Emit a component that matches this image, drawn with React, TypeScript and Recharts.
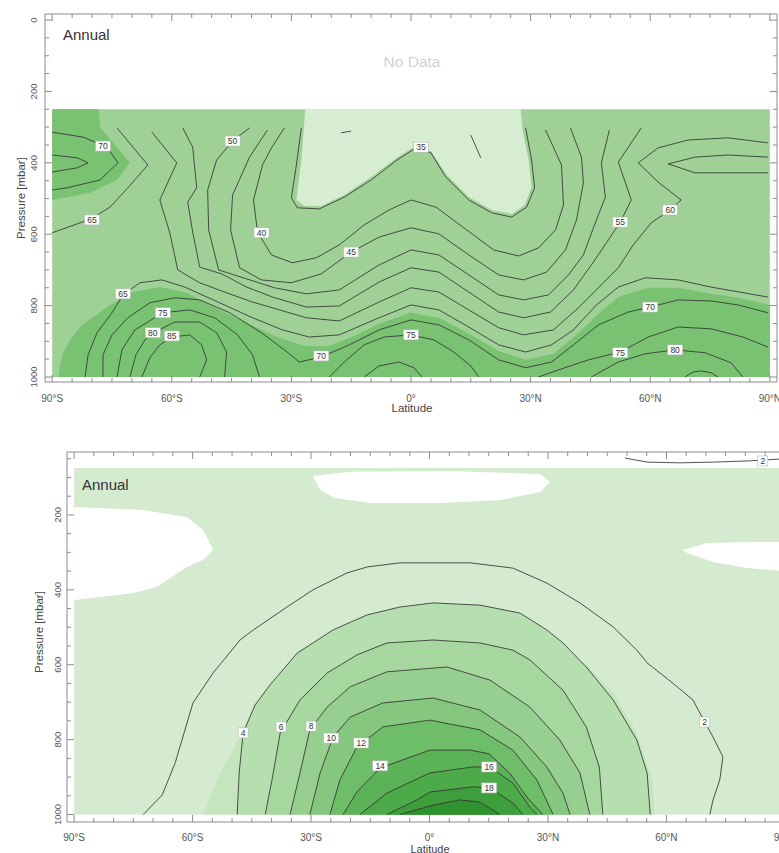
import React from 'react';
import { ComposedChart, Scatter, XAxis, YAxis } from 'recharts';

type Pt = [number, number];
interface Lbl { x: number; y: number; v: number }

const FONT = '"Liberation Sans", Arial, Helvetica, sans-serif';
const AX = '#8c8c8c';
const LINE = '#333';

// ---------- axes ----------
const latTicks: number[] = [-90, -85, -80, -75, -70, -65, -60, -55, -50, -45, -40, -35, -30, -25, -20, -15, -10, -5, 0, 5, 10, 15, 20, 25, 30, 35, 40, 45, 50, 55, 60, 65, 70, 75, 80, 85, 90];
const latMajor: number[] = [-90, -60, -30, 0, 30, 60, 90];
const latLabels: string[] = ['90°S', '60°S', '30°S', '0°', '30°N', '60°N', '90°N'];
const topPTicks: number[] = [0, 50, 100, 150, 200, 250, 300, 350, 400, 450, 500, 550, 600, 650, 700, 750, 800, 850, 900, 950, 1000];
const botPTicks: number[] = [50, 100, 150, 200, 250, 300, 350, 400, 450, 500, 550, 600, 650, 700, 750, 800, 850, 900, 950, 1000];
const pMajor: number[] = [0, 200, 400, 600, 800, 1000];
const cornerPts: Pt[] = [[-90, 0], [90, 1000]];

// ---------- top panel: fills ----------
const topArea: Pt[] = [[-90, 250], [90, 250], [90, 1000], [-90, 1000]];
const topPale: Pt[] = [[-26.5, 250], [-27.5, 392], [-28.75, 504], [-26.75, 521], [-22.5, 521], [-16.75, 490], [-10, 440], [-3, 381], [1.25, 353], [5, 367], [8.75, 431], [14.5, 496], [20.25, 532], [25.25, 543], [28.5, 518], [30.25, 468], [29.5, 392], [28, 308], [27.5, 250]];
const topDarkTL: Pt[] = [[-90, 250], [-78.25, 250], [-78, 300], [-73.75, 356], [-70.5, 400], [-73.75, 448], [-80.5, 484], [-90, 504]];
const topDarkBottom: Pt[] = [[-88.5, 1000], [-87.5, 938], [-85.5, 896], [-82.5, 854], [-76.25, 804], [-69.75, 762], [-63, 748], [-56.25, 764], [-49.25, 806], [-41.75, 845], [-34.25, 885], [-26.75, 913], [-20.5, 913], [-14.25, 885], [-8, 851], [0, 820], [7, 834], [14.5, 879], [22, 927], [28.75, 952], [35.75, 935], [41.5, 882], [47, 823], [52, 776], [59.5, 750], [67, 750], [75.25, 767], [82, 778], [90, 798], [90, 1000]];

// ---------- top panel: contour lines ----------
const t35: Pt[] = [[-27.5, 302], [-28.75, 406], [-30, 498], [-28.5, 526], [-23, 529], [-16.75, 496], [-10, 448], [-3.5, 392], [1.25, 358], [5, 372], [8.75, 440], [14.5, 504], [20.25, 540], [25.25, 552], [29, 524], [31, 470], [30.25, 392], [28.75, 302]];
const t40: Pt[] = [[-31.75, 302], [-35, 358], [-37.25, 406], [-39.5, 504], [-38.5, 594], [-35, 658], [-29.75, 680], [-23.75, 666], [-18, 630], [-11.75, 574], [-5.5, 532], [0, 504], [6.25, 524], [13.25, 582], [20.75, 644], [27, 661], [32, 638], [36.25, 588], [38.25, 518], [37.75, 406], [33.75, 308]];
const t45: Pt[] = [[-36, 308], [-40.5, 384], [-44.75, 490], [-45.25, 588], [-43, 694], [-37.5, 728], [-30, 736], [-22.5, 711], [-15, 650], [-8, 608], [0, 582], [7, 599], [14.5, 658], [22, 714], [28.25, 728], [34, 706], [38.75, 644], [41.5, 560], [43.25, 456], [42.75, 384], [40, 302]];
const t50: Pt[] = [[-40.5, 302], [-44.75, 339], [-48.75, 392], [-51, 476], [-50.75, 588], [-48.25, 700], [-41.25, 725], [-34.25, 750], [-26.25, 767], [-18, 756], [-8, 686], [0, 644], [7, 658], [14.5, 714], [22, 770], [28.25, 784], [34.5, 770], [39.5, 714], [43.25, 658], [45.75, 582], [48.75, 496], [47.75, 400], [49.75, 308]];
const t55: Pt[] = [[-57.25, 302], [-54.75, 356], [-53.75, 470], [-56, 510], [-54.75, 594], [-53, 692], [-47.5, 711], [-41.25, 748], [-34.75, 776], [-26.25, 804], [-18, 801], [-8, 734], [0, 694], [7, 706], [14.5, 762], [22, 818], [28.25, 834], [35, 818], [40.75, 756], [45.75, 678], [49.5, 616], [52.5, 566], [55.25, 504], [52, 398], [57.75, 302]];
const t60: Pt[] = [[-65, 314], [-58.75, 400], [-63, 504], [-60.5, 596], [-58.5, 700], [-53, 736], [-46.25, 764], [-39.75, 790], [-33, 812], [-26.25, 834], [-18, 843], [-8, 790], [0, 750], [7, 762], [14.5, 812], [22, 862], [28.25, 882], [35.75, 868], [42, 806], [48.25, 736], [52, 694], [55.75, 630], [60.25, 568], [65, 532], [67.75, 504], [62, 454], [57, 400], [62, 358], [69.5, 336], [79.5, 330], [89.5, 344]];
const t65a: Pt[] = [[-73.75, 302], [-69.75, 356], [-66, 406], [-71, 470], [-75.5, 524], [-80.25, 557], [-90, 596]];
const t65: Pt[] = [[-81.75, 1000], [-81, 938], [-78.75, 876], [-75, 820], [-72.25, 770], [-68, 736], [-62.5, 728], [-56.75, 748], [-48, 792], [-39.75, 834], [-32.25, 868], [-25.5, 888], [-18, 882], [-8, 834], [0, 798], [7, 812], [14.5, 860], [22, 910], [28.75, 930], [35.25, 910], [40.75, 868], [46.5, 798], [52, 748], [58.75, 722], [67, 728], [75.25, 748], [89.5, 776]];
const t65v: Pt[] = [[89.5, 384], [79.5, 378], [71.25, 384], [64.5, 403], [71.25, 428], [79.5, 428], [89.5, 428]];
const t70a: Pt[] = [[-90, 314], [-82.25, 328], [-76.25, 356], [-73.5, 400], [-78, 448], [-86.25, 470], [-90, 476]];
const t75a: Pt[] = [[-90, 378], [-83.75, 386], [-81, 400], [-83.75, 414], [-90, 426]];
const t70: Pt[] = [[-77.25, 1000], [-77.25, 938], [-75, 882], [-71, 834], [-65.5, 792], [-59.25, 778], [-53, 784], [-45.5, 820], [-37.5, 876], [-31.75, 924], [-28, 958], [-22.5, 944], [-15.5, 910], [-8, 868], [0, 840], [7, 854], [14.5, 896], [22, 952], [28.75, 974], [35.25, 958], [40.75, 910], [47, 854], [54.5, 818], [60, 804], [67, 784], [75.25, 787], [82, 798], [89.5, 820]];
const t75L: Pt[] = [[-73.75, 1000], [-72.5, 924], [-69.25, 868], [-62.25, 820], [-55.5, 812], [-49.25, 834], [-43.5, 882], [-39.75, 938], [-38, 1000]];
const t80L: Pt[] = [[-70.5, 1000], [-69, 938], [-66.75, 896], [-64.25, 874], [-59.25, 846], [-53, 846], [-48.75, 876], [-46.25, 930], [-46.75, 1000]];
const t85L: Pt[] = [[-67.5, 1000], [-65.5, 946], [-63, 910], [-60, 888], [-55.5, 882], [-52.5, 910], [-51.25, 952], [-53, 1000]];
const t75C: Pt[] = [[-20.5, 1000], [-16.75, 958], [-11.75, 910], [-6.75, 888], [0, 882], [5.75, 896], [10.75, 930], [15, 969], [17, 1000]];
const t80C: Pt[] = [[-11.75, 1000], [-8, 969], [-3, 958], [0.75, 974], [2.75, 1000]];
const t75R: Pt[] = [[32, 1000], [37, 980], [44.5, 952], [52.5, 930], [59.5, 888], [67, 860], [75.25, 865], [83.25, 888], [89.5, 916]];
const t80R: Pt[] = [[45.25, 1000], [52, 958], [58.75, 935], [66.25, 924], [73.75, 932], [80.25, 960], [83.25, 1000]];
const t85R: Pt[] = [[68.75, 1000], [70.75, 986], [72.75, 983], [75.25, 988], [77, 1000]];
const tFrag1: Pt[] = [[-17.5, 316], [-15, 311]];
const tFrag2: Pt[] = [[15, 322], [17.5, 386]];

const topLabels: Lbl[] = [
  { x: -77.25, y: 353, v: 70 }, { x: -44.75, y: 339, v: 50 }, { x: 2.5, y: 356, v: 35 },
  { x: -80, y: 560, v: 65 }, { x: -37.5, y: 596, v: 40 }, { x: -15, y: 650, v: 45 },
  { x: 52.5, y: 566, v: 55 }, { x: 65, y: 532, v: 60 }, { x: -72.25, y: 767, v: 65 },
  { x: -62.25, y: 820, v: 75 }, { x: -64.75, y: 876, v: 80 }, { x: -60, y: 885, v: 85 },
  { x: -22.5, y: 941, v: 70 }, { x: 0, y: 882, v: 75 }, { x: 60, y: 804, v: 70 },
  { x: 52.5, y: 932, v: 75 }, { x: 66.25, y: 924, v: 80 },
];

// ---------- bottom panel: fills ----------
const botArea: Pt[] = [[-90, 75], [90, 75], [90, 1000], [-90, 1000]];
const botW1: Pt[] = [[-29.5, 96], [-20.1, 85], [5.2, 83], [28, 91], [30.5, 112], [28, 139], [18, 160], [2.7, 168], [-15.1, 168], [-23.9, 155], [-27.7, 134]];
const botW2: Pt[] = [[-90, 179], [-72.5, 187], [-61.4, 206], [-57.3, 240], [-54.8, 294], [-57.3, 320], [-61.4, 339], [-69, 392], [-75.1, 409], [-83.4, 419], [-90, 427]];
const botW3: Pt[] = [[90, 272], [80.4, 272], [70.3, 275], [64.2, 294], [65.2, 302], [71.8, 326], [80.4, 342], [90, 350]];
const botLight: Pt[] = [[-57.3, 1000], [-53, 889], [-47.97, 793], [-43.7, 713], [-35.3, 622], [-22.7, 534], [-14.6, 502], [0.1, 488], [17.8, 491], [29.7, 534], [39.7, 601], [46.5, 673], [52.5, 782], [56.4, 908], [57, 1000]];

// ---------- bottom panel: contour lines ----------
const b2top: Pt[] = [[49.5, 48], [55.1, 59], [63.4, 61], [71.8, 59], [80.4, 56], [88.5, 51], [90, 51]];
const b2: Pt[] = [[-72.5, 1000], [-67.7, 948], [-64.4, 862], [-59.9, 702], [-54.8, 622], [-47.97, 534], [-44.6, 507], [-36.1, 446], [-29.5, 400], [-20.9, 355], [-15.8, 339], [-7.5, 328], [0.1, 328], [10.3, 328], [21.1, 342], [29.7, 382], [38.1, 435], [46.5, 499], [52.5, 561], [55.1, 595], [61.6, 649], [66.7, 694], [69.7, 753], [71.8, 793], [74.3, 846], [73.5, 908], [71.8, 961], [71, 1000]];
const b4: Pt[] = [[-48.7, 1000], [-48.2, 889], [-47.2, 782], [-44.2, 708], [-40.4, 654], [-33.5, 569], [-24.4, 507], [-15.8, 467], [-7.5, 446], [0.9, 435], [12.8, 441], [22.9, 462], [29.7, 507], [33.8, 542], [39.7, 606], [46.5, 694], [52.5, 801], [55.1, 889], [55.9, 1000]];
const b6: Pt[] = [[-41.6, 1000], [-39.9, 908], [-37.8, 782], [-32.8, 694], [-25.9, 622], [-18.4, 574], [-10.8, 542], [0.9, 534], [12.8, 542], [21.1, 561], [25.4, 587], [33.8, 668], [39.7, 766], [43, 873], [43.9, 1000]];
const b8: Pt[] = [[-35.3, 1000], [-32.8, 889], [-30.3, 774], [-25.9, 713], [-20.1, 659], [-10.8, 619], [0.9, 609], [4.4, 606], [15.3, 641], [25.4, 713], [33, 801], [38.1, 889], [40.6, 1000]];
const b10: Pt[] = [[-30.3, 1000], [-27.7, 889], [-24.4, 793], [-20.1, 740], [-11.8, 702], [0.9, 689], [12.8, 721], [22.9, 793], [29.7, 873], [33.8, 943], [35.6, 1000]];
const b12: Pt[] = [[-25.2, 1000], [-22.7, 908], [-18.4, 820], [-11.8, 766], [0.1, 748], [12.8, 774], [21.1, 828], [27.2, 908], [31.3, 1000]];
const b14: Pt[] = [[-21.9, 1000], [-18.4, 940], [-12.5, 876], [0.1, 828], [10.3, 828], [15.1, 838], [20.4, 891], [25, 958], [28.7, 1000]];
const b16: Pt[] = [[-17.6, 1000], [-10.8, 943], [0.1, 889], [11, 873], [15.3, 873], [21.1, 916], [25.4, 980], [27.2, 1000]];
const b18: Pt[] = [[-10.8, 1000], [-3.2, 961], [0.1, 940], [11, 926], [15.3, 929], [21.1, 969], [23.7, 1000]];
const b20: Pt[] = [[-7.5, 1000], [0.9, 975], [7.7, 961], [12.8, 967], [17.8, 1000]];

const botLabels: Lbl[] = [
  { x: -47.2, y: 782, v: 4 }, { x: -37.6, y: 766, v: 6 }, { x: -30, y: 764, v: 8 },
  { x: -24.9, y: 796, v: 10 }, { x: -17.3, y: 809, v: 12 }, { x: -12.5, y: 870, v: 14 },
  { x: 15.1, y: 873, v: 16 }, { x: 15.1, y: 929, v: 18 }, { x: 69.7, y: 753, v: 2 },
  { x: 84.4, y: 56, v: 2 },
];

// ---------- colours ----------
const TOP_MID = '#9fd197';
const TOP_PALE = '#d6edd1';
const TOP_DARK = '#79c272';
const BOT_PALE = '#d4ebcf';
const BOT_LIGHT = '#c4e5bd';
const botLevels: { d: Pt[]; c: string }[] = [
  { d: b4, c: '#b6dfaf' }, { d: b6, c: '#a6d79f' }, { d: b8, c: '#96cf8f' },
  { d: b10, c: '#85c77f' }, { d: b12, c: '#6ebd68' }, { d: b14, c: '#5cb357' },
  { d: b16, c: '#4caa48' }, { d: b18, c: '#3e9e3b' }, { d: b20, c: '#30912f' },
];

// ---------- helpers ----------
const toPts = (a: Pt[]) => a.map(([x, y]) => ({ x, y }));
const Empty = () => <g />;

const fillS = (key: string, a: Pt[], color: string) => (
  <Scatter key={key} data={toPts(a)} xAxisId="b" yAxisId="l" fill="none" shape={Empty}
    line={{ fill: color, stroke: 'none' }} isAnimationActive={false} />
);
const lineS = (key: string, a: Pt[]) => (
  <Scatter key={key} data={toPts(a)} xAxisId="b" yAxisId="l" fill="none" shape={Empty}
    line={{ stroke: LINE, strokeWidth: 0.85, fill: 'none' }} isAnimationActive={false} />
);

const LabelShape = (props: any) => {
  const { cx, cy, payload } = props;
  if (cx == null || cy == null || !payload) return <g />;
  const t = String(payload.v);
  const w = t.length * 5 + 5;
  return (
    <g>
      <rect x={cx - w / 2} y={cy - 5} width={w} height={10} fill="#fff" stroke="#b5b5b5" strokeWidth={0.6} />
      <text x={cx} y={cy + 3.2} textAnchor="middle" fontSize={8.5} fill="#333" fontFamily={FONT}>{t}</text>
    </g>
  );
};

const bottomTick = (dy: number) => (props: any) => {
  const { x, y, payload } = props;
  const v = payload.value;
  const i = latMajor.indexOf(v);
  const major = i >= 0;
  return (
    <g>
      <line x1={x} x2={x} y1={y} y2={y - (major ? 7 : 4)} stroke={AX} strokeWidth={1} />
      {major && (
        <text x={x} y={y + dy} textAnchor="middle" fontSize={10} fill="#555" fontFamily={FONT}>{latLabels[i]}</text>
      )}
    </g>
  );
};
const TopTick = (props: any) => {
  const { x, y, payload } = props;
  const major = latMajor.indexOf(payload.value) >= 0;
  return <line x1={x} x2={x} y1={y} y2={y + (major ? 7 : 4)} stroke={AX} strokeWidth={1} />;
};
const leftTick = (dx: number) => (props: any) => {
  const { x, y, payload } = props;
  const v = payload.value;
  const major = pMajor.indexOf(v) >= 0;
  const tx = x - dx;
  return (
    <g>
      <line x1={x} x2={x + (major ? 7 : 4)} y1={y} y2={y} stroke={AX} strokeWidth={1} />
      {major && (
        <text x={tx} y={y} transform={`rotate(-90 ${tx} ${y})`} textAnchor="middle" dominantBaseline="central"
          fontSize={9.5} fill="#555" fontFamily={FONT}>{v}</text>
      )}
    </g>
  );
};
const RightTick = (props: any) => {
  const { x, y, payload } = props;
  const major = pMajor.indexOf(payload.value) >= 0;
  return <line x1={x} x2={x - (major ? 7 : 4)} y1={y} y2={y} stroke={AX} strokeWidth={1} />;
};

const Txt = (p: { x: number; y: number; size: number; color: string; rot?: number; left?: boolean; children: React.ReactNode }) => (
  <div style={{
    position: 'absolute', left: p.x, top: p.y, fontSize: p.size, color: p.color, fontFamily: FONT,
    whiteSpace: 'nowrap', lineHeight: 1,
    transform: `${p.left ? 'translate(0,-50%)' : 'translate(-50%,-50%)'}${p.rot ? ` rotate(${p.rot}deg)` : ''}`,
  }}>{p.children}</div>
);

const axes = (pDomain: [number, number], pTicks: number[], xH: number, topH: number, yW: number, rW: number, dy: number, dx: number) => [
  <XAxis key="xb" xAxisId="b" type="number" dataKey="x" domain={[-91.8, 91.8]} allowDataOverflow ticks={latTicks}
    interval={0} height={xH} tickSize={0} tickMargin={0} tickLine={false} axisLine={{ stroke: AX }} tick={bottomTick(dy)} />,
  <XAxis key="xt" xAxisId="t" orientation="top" type="number" dataKey="x" domain={[-91.8, 91.8]} allowDataOverflow ticks={latTicks}
    interval={0} height={topH} tickSize={0} tickMargin={0} tickLine={false} axisLine={{ stroke: AX }} tick={TopTick} />,
  <YAxis key="yl" yAxisId="l" type="number" dataKey="y" domain={pDomain} reversed allowDataOverflow ticks={pTicks}
    interval={0} width={yW} tickSize={0} tickMargin={0} tickLine={false} axisLine={{ stroke: AX }} tick={leftTick(dx)} />,
  <YAxis key="yr" yAxisId="r" orientation="right" type="number" dataKey="y" domain={pDomain} reversed allowDataOverflow ticks={pTicks}
    interval={0} width={rW} tickSize={0} tickMargin={0} tickLine={false} axisLine={{ stroke: AX }} tick={RightTick} />,
  <Scatter key="corner" data={toPts(cornerPts)} xAxisId="t" yAxisId="r" shape={Empty} isAnimationActive={false} />,
];

export default function App() {
  const topLines: Pt[][] = [t35, t40, t45, t50, t55, t60, t65a, t65, t65v, t70a, t75a, t70, t75L, t80L, t85L, t75C, t80C, t75R, t80R, t85R, tFrag1, tFrag2];
  const botLines: Pt[][] = [b2top, b2, b4, b6, b8, b10, b12, b14, b16, b18, b20];
  return (
    <div style={{ position: 'absolute', left: 0, top: 0, width: 779, height: 853, overflow: 'hidden', background: '#fff' }}>
      <div style={{ position: 'absolute', left: 0, top: 0 }}>
        <ComposedChart width={779} height={420} margin={{ top: 0, right: 0, bottom: 0, left: 0 }}>
          {fillS('ta', topArea, TOP_MID)}
          {fillS('tp', topPale, TOP_PALE)}
          {fillS('td1', topDarkTL, TOP_DARK)}
          {fillS('td2', topDarkBottom, TOP_DARK)}
          {topLines.map((a, i) => lineS('tl' + i, a))}
          <Scatter data={topLabels} xAxisId="b" yAxisId="l" shape={LabelShape} isAnimationActive={false} />
          {axes([-17, 1014], topPTicks, 38, 14, 45, 2, 20, 11)}
        </ComposedChart>
      </div>
      <div style={{ position: 'absolute', left: 0, top: 430 }}>
        <ComposedChart width={800} height={423} margin={{ top: 0, right: 0, bottom: 0, left: 0 }}>
          {fillS('ba', botArea, BOT_PALE)}
          {fillS('bw1', botW1, '#ffffff')}
          {fillS('bw2', botW2, '#ffffff')}
          {fillS('bw3', botW3, '#ffffff')}
          {fillS('bl', botLight, BOT_LIGHT)}
          {botLevels.map((l, i) => fillS('bf' + i, l.d, l.c))}
          {botLines.map((a, i) => lineS('bl' + i, a))}
          <Scatter data={botLabels} xAxisId="b" yAxisId="l" shape={LabelShape} isAnimationActive={false} />
          {axes([32, 1020], botPTicks, 31, 22, 67, 8, 18.5, 9.5)}
        </ComposedChart>
      </div>
      <Txt x={63} y={34} size={15} color="#333" left>Annual</Txt>
      <Txt x={412} y={62} size={15.5} color="#d2d2d2">No Data</Txt>
      <Txt x={22} y={198} size={11.5} color="#444" rot={-90}>Pressure [mbar]</Txt>
      <Txt x={412} y={409} size={11.5} color="#444">Latitude</Txt>
      <Txt x={82} y={484} size={15} color="#333" left>Annual</Txt>
      <Txt x={40} y={632} size={11.5} color="#444" rot={-90}>Pressure [mbar]</Txt>
      <Txt x={430} y={848.5} size={11} color="#444">Latitude</Txt>
    </div>
  );
}
